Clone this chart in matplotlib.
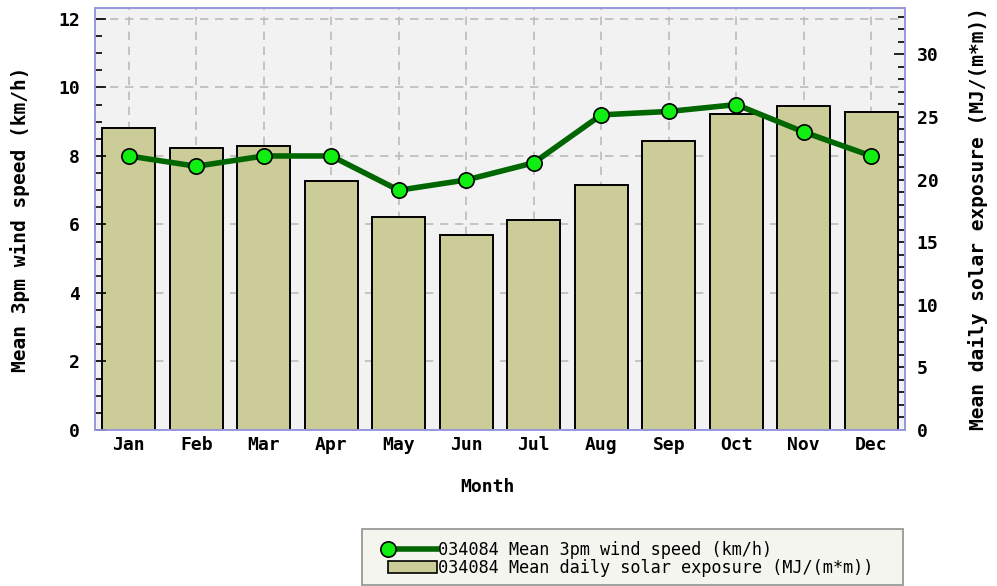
import matplotlib
matplotlib.use("Agg")
import matplotlib.pyplot as plt
from matplotlib.legend_handler import HandlerBase
from matplotlib.lines import Line2D
from matplotlib.patches import Patch, Rectangle
from matplotlib.ticker import MultipleLocator

months = ["Jan", "Feb", "Mar", "Apr", "May", "Jun",
          "Jul", "Aug", "Sep", "Oct", "Nov", "Dec"]
wind_3pm = [8.0, 7.7, 8.0, 8.0, 7.0, 7.3, 7.8, 9.2, 9.3, 9.5, 8.7, 8.0]
solar = [24.1, 22.5, 22.7, 19.9, 17.0, 15.6, 16.8, 19.6, 23.1, 25.2, 25.9, 25.4]

MONO = "DejaVu Sans Mono"
FRAME = "#9999dd"
GRID = "#bbbbbb"
LINE_GREEN = "#006600"
MARKER_GREEN = "#11ee11"


class LeftMarkerHandler(HandlerBase):
    """Legend line with the marker sitting at its left end."""

    def create_artists(self, legend, orig_handle, xdescent, ydescent,
                       width, height, fontsize, trans):
        y = (height - ydescent) / 2
        line = Line2D([-xdescent, -xdescent + width], [y, y],
                      color=LINE_GREEN, linewidth=4, transform=trans)
        mark = Line2D([-xdescent], [y], linestyle="none", marker="o",
                      markersize=11, markerfacecolor=MARKER_GREEN,
                      markeredgecolor="black", markeredgewidth=1.2,
                      transform=trans)
        return [line, mark]


fig = plt.figure(figsize=(9.97, 5.86), dpi=100)
ax_bar = fig.add_axes([95 / 997, 156 / 586, 810 / 997, 422 / 586])
ax_line = ax_bar.twinx()

x = list(range(len(months)))

# solar bars on the right axis, drawn underneath
ax_bar.set_facecolor("#f2f2f2")
ax_bar.yaxis.tick_right()
ax_bar.yaxis.set_label_position("right")
ax_bar.bar(x, solar, width=0.78, color="#cccc99", edgecolor="black",
           linewidth=1.4, zorder=2)
ax_bar.set_ylim(0, 33.7)
ax_bar.yaxis.set_major_locator(MultipleLocator(5))
ax_bar.yaxis.set_minor_locator(MultipleLocator(1))
ax_bar.set_ylabel("Mean daily solar exposure (MJ/(m*m))", family=MONO,
                  fontweight="bold", fontsize=14)

# wind line on the left axis
ax_line.yaxis.tick_left()
ax_line.yaxis.set_label_position("left")
ax_line.plot(x, wind_3pm, color=LINE_GREEN, linewidth=4, marker="o",
             markersize=11, markerfacecolor=MARKER_GREEN, markeredgecolor="black",
             markeredgewidth=1.2, zorder=3)
ax_line.set_ylim(0, 12.32)
ax_line.yaxis.set_major_locator(MultipleLocator(2))
ax_line.yaxis.set_minor_locator(MultipleLocator(0.5))
ax_line.set_ylabel("Mean 3pm wind speed (km/h)", family=MONO,
                   fontweight="bold", fontsize=14)

# dashed grid at month centres and left-axis majors, behind the bars
for xi in x:
    ax_bar.axvline(xi, color=GRID, linestyle=(0, (5, 4)), linewidth=1.2, zorder=1)
for yv in range(2, 13, 2):
    ax_bar.axhline(yv * 33.7 / 12.32, color=GRID, linestyle=(0, (5, 4)),
                   linewidth=1.2, zorder=1)

ax_bar.set_xlim(-0.5, 11.5)
ax_bar.set_xticks(x)
ax_bar.set_xticklabels(months)
ax_bar.set_xlabel("Month", family=MONO, fontweight="bold", fontsize=13)

for ax in (ax_bar, ax_line):
    ax.tick_params(which="both", direction="in", color="black")
    ax.tick_params(which="major", length=8, width=1.2)
    ax.tick_params(which="minor", length=5, width=1.2)
    for lab in ax.get_xticklabels() + ax.get_yticklabels():
        lab.set_family(MONO)
        lab.set_fontweight("bold")
        lab.set_fontsize(13)
    for s in ax.spines.values():
        s.set_color(FRAME)
        s.set_linewidth(1.3)
ax_bar.tick_params(axis="y", pad=8.5)
ax_line.tick_params(axis="y", pad=11)
ax_bar.tick_params(axis="x", pad=4.5)

# axis label placement
ax_line.yaxis.set_label_coords((20 - 95) / 810, 0.5)
ax_line.yaxis.label.set_va("center")
ax_bar.yaxis.set_label_coords((978 - 95) / 810, 0.5)
ax_bar.yaxis.label.set_va("center")
ax_bar.xaxis.set_label_coords(0.485, (430 - 487) / 422)
ax_bar.xaxis.label.set_va("center")

# legend box drawn separately, legend entries placed inside it
fig.patches.append(Rectangle((362 / 997, 1 / 586), 541 / 997, 56 / 586,
                             transform=fig.transFigure, facecolor="#f5f5ef",
                             edgecolor="#999999", linewidth=1.3))
wind_handle = Line2D([0], [0], color=LINE_GREEN, linewidth=4, marker="o")
solar_handle = Patch(facecolor="#cccc99", edgecolor="black", linewidth=1.2)
labels = ["034084 Mean 3pm wind speed (km/h)",
          "034084 Mean daily solar exposure (MJ/(m*m))"]
fig.legend([wind_handle, solar_handle], labels, loc="center left",
           bbox_to_anchor=(388 / 997, (586 - 559) / 586),
           handler_map={wind_handle: LeftMarkerHandler()},
           prop={"family": MONO, "size": 12.2}, frameon=False,
           handlelength=2.9, handletextpad=0.05, labelspacing=0.0,
           borderpad=0, borderaxespad=0)

fig.savefig("out.png", dpi=100)
